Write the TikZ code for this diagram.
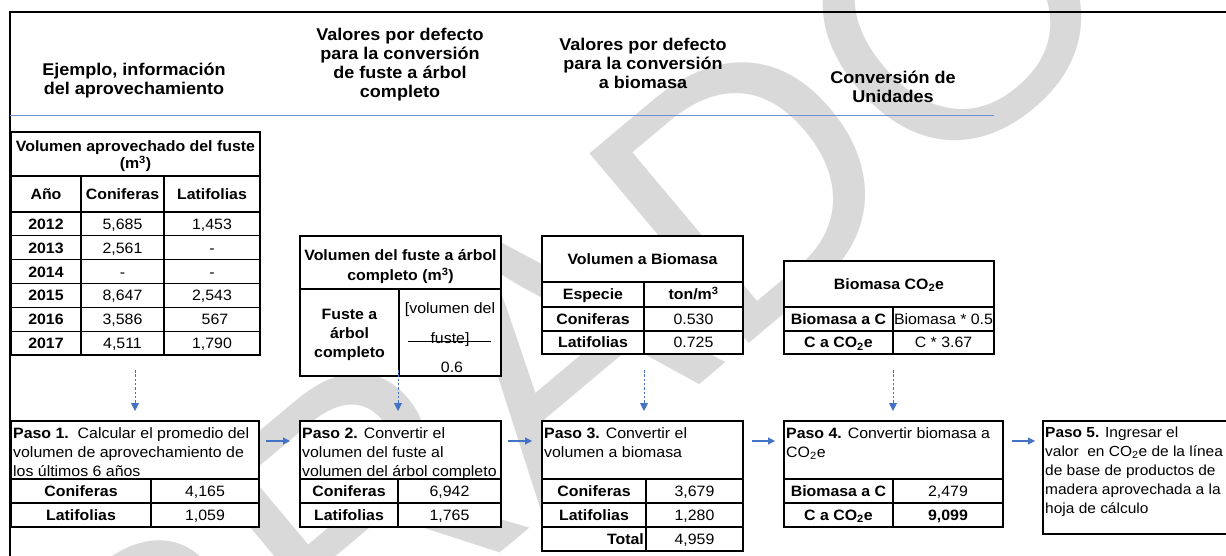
\documentclass[tikz,border=0pt]{standalone}
\usepackage{fontspec}
\setmainfont[FakeStretch=1.06]{Liberation Sans}
\newfontfamily\wmfont{Liberation Sans}
\usetikzlibrary{arrows.meta}
\definecolor{arrowblue}{HTML}{4472C4}
\definecolor{ruleblue}{HTML}{6D8FD4}
\begin{document}
\begin{tikzpicture}[x=1pt,y=-1pt,
  tb/.style={draw=black, line width=1.3pt, fill=white},
  ln/.style={draw=black, line width=1.3pt},
  tx/.style={font=\fontsize{15}{18}\selectfont, inner sep=0pt, anchor=base, yshift=-5.4pt},
  bx/.style={tx, font=\fontsize{15}{18}\selectfont\bfseries},
  ml/.style={font=\fontsize{15}{19}\selectfont\bfseries, align=center, inner sep=0pt},
  hd/.style={font=\fontsize{17}{19}\selectfont\bfseries, align=center, inner sep=0pt},
  ps/.style={font=\fontsize{15}{19}\selectfont, align=left, inner sep=0pt, anchor=north west},
  dar/.style={draw=arrowblue, line width=0.9pt, dash pattern=on 2.5pt off 1.8pt, -{Triangle[length=8pt,width=8pt]}},
  har/.style={draw=arrowblue, line width=1.1pt, -{Triangle[length=7pt,width=7pt]}}]
\useasboundingbox (0,0) rectangle (1226,556);
\clip (0,0) rectangle (1226,556);
% watermark
\node[font=\wmfont\fontsize{360}{360}\selectfont, text=black!15, rotate=40, inner sep=0pt] (wm) at (463,422) {BORRADOR};
% frame and rule
\draw[line width=1.5pt] (1230,12) -- (10,12) -- (10,560);
\draw[ruleblue, line width=0.9pt] (10,115.5) -- (994,115.5);
% headers
\node[hd] (h1) at (134,81) {Ejemplo, información\\del aprovechamiento};
\node[hd] (h2) at (400,65) {Valores por defecto\\para la conversión\\de fuste a árbol\\completo};
\node[hd] (h3) at (643,63) {Valores por defecto\\para la conversión\\a biomasa};
\node[hd] (h4) at (893,87) {Conversión de\\Unidades};
% table 1
\path[tb] (11,132) rectangle (260,355);
\foreach \yy in {176,212,235.8,259.7,283.5,307.3,331.2} {\draw[ln] (11,\yy) -- (260,\yy);}
\draw[ln] (81,176) -- (81,355);
\draw[ln] (164,176) -- (164,355);
\node[font=\fontsize{15}{17}\selectfont\bfseries, align=center, inner sep=0pt] (t1h) at (135.5,156) {Volumen aprovechado del fuste\\(m\textsuperscript{3})};
\node[bx] (t1a) at (46,194) {Año};
\node[bx] (t1b) at (122.5,194) {Coniferas};
\node[bx] (t1c) at (212,194) {Latifolias};
\node[bx] (y12) at (46,223.9) {2012};
\node[tx] (c12) at (122.5,223.9) {5,685};
\node[tx] (l12) at (212,223.9) {1,453};
\node[bx] (y13) at (46,247.75) {2013};
\node[tx] (c13) at (122.5,247.75) {2,561};
\node[tx] (l13) at (212,247.75) {-};
\node[bx] (y14) at (46,271.6) {2014};
\node[tx] (c14) at (122.5,271.6) {-};
\node[tx] (l14) at (212,271.6) {-};
\node[bx] (y15) at (46,295.4) {2015};
\node[tx] (c15) at (122.5,295.4) {8,647};
\node[tx] (l15) at (212,295.4) {2,543};
\node[bx] (y16) at (46,319.25) {2016};
\node[tx] (c16) at (122.5,319.25) {3,586};
\node[tx] (l16) at (215,319.25) {567};
\node[bx] (y17) at (46,343.1) {2017};
\node[tx] (c17) at (122.5,343.1) {4,511};
\node[tx] (l17) at (212,343.1) {1,790};
% table 2
\path[tb] (300,236) rectangle (501,376);
\draw[ln] (300,289) -- (501,289);
\draw[ln] (399,289) -- (399,376);
\node[font=\fontsize{15}{20}\selectfont\bfseries, align=center, inner sep=0pt] (t2h) at (400.5,266.5) {Volumen del fuste a árbol\\completo (m\textsuperscript{3})};
\node[ml] (t2a) at (349.5,334.5) {Fuste a\\árbol\\completo};
\node[tx] (t2b) at (450,308) {[volumen del};
\node[tx] (t2c) at (450,338.5) {fuste]};
\draw[line width=0.8pt] (408,341.5) -- (491,341.5);
\node[tx] (t2d) at (452,367) {0.6};
% table 3
\path[tb] (542,236) rectangle (743,354);
\foreach \yy in {282,307,331} {\draw[ln] (542,\yy) -- (743,\yy);}
\draw[ln] (644,282) -- (644,354);
\node[bx] (t3h) at (642.5,259) {Volumen a Biomasa};
\node[bx] (t3a) at (593,294.5) {Especie};
\node[bx] (t3b) at (693.5,294.5) {ton/m\textsuperscript{3}};
\node[bx] (t3c) at (593,319) {Coniferas};
\node[tx] (t3d) at (693.5,319) {0.530};
\node[bx] (t3e) at (593,342.5) {Latifolias};
\node[tx] (t3f) at (693.5,342.5) {0.725};
% table 4
\path[tb] (784,261) rectangle (994,354);
\draw[ln] (784,307) -- (994,307);
\draw[ln] (784,331) -- (994,331);
\draw[ln] (893,307) -- (893,354);
\node[bx] (t4h) at (889,284) {Biomasa CO\textsubscript{2}e};
\node[bx] (t4a) at (838.5,319) {Biomasa a C};
\node[tx] (t4b) at (943.5,319) {Biomasa * 0.5};
\node[bx] (t4c) at (838.5,342.5) {C a CO\textsubscript{2}e};
\node[tx] (t4d) at (943.5,342.5) {C * 3.67};
% paso 1
\path[tb] (11,421) rectangle (259,527);
\draw[ln] (11,479) -- (259,479);
\draw[ln] (11,503) -- (259,503);
\draw[ln] (151,479) -- (151,527);
\node[ps] (p1t) at (13,427.3) {\textbf{Paso 1.}\ \ Calcular el promedio del\\volumen de aprovechamiento de\\los últimos 6 años};
\node[bx] (p1a) at (81,491) {Coniferas};
\node[tx] (p1b) at (205,491) {4,165};
\node[bx] (p1c) at (81,515) {Latifolias};
\node[tx] (p1d) at (205,515) {1,059};
% paso 2
\path[tb] (300,421) rectangle (501,527);
\draw[ln] (300,479) -- (501,479);
\draw[ln] (300,503) -- (501,503);
\draw[ln] (398,479) -- (398,527);
\node[ps] (p2t) at (302,427.3) {\textbf{Paso 2.} Convertir el\\volumen del fuste al\\volumen del árbol completo};
\node[bx] (p2a) at (349,491) {Coniferas};
\node[tx] (p2b) at (449.5,491) {6,942};
\node[bx] (p2c) at (349,515) {Latifolias};
\node[tx] (p2d) at (449.5,515) {1,765};
% paso 3
\path[tb] (542,421) rectangle (743,551);
\foreach \yy in {479,503,527} {\draw[ln] (542,\yy) -- (743,\yy);}
\draw[ln] (646,479) -- (646,551);
\node[ps] (p3t) at (544,427.3) {\textbf{Paso 3.} Convertir el\\volumen a biomasa};
\node[bx] (p3a) at (594,491) {Coniferas};
\node[tx] (p3b) at (694.5,491) {3,679};
\node[bx] (p3c) at (594,515) {Latifolias};
\node[tx] (p3d) at (694.5,515) {1,280};
\node[bx, anchor=base east] (p3e) at (644,539) {Total};
\node[tx] (p3f) at (694.5,539) {4,959};
% paso 4
\path[tb] (784,421) rectangle (1003,527);
\draw[ln] (784,479) -- (1003,479);
\draw[ln] (784,503) -- (1003,503);
\draw[ln] (893,479) -- (893,527);
\node[ps] (p4t) at (786,427.3) {\textbf{Paso 4.} Convertir biomasa a\\CO\textsubscript{2}e};
\node[bx] (p4a) at (838.5,491) {Biomasa a C};
\node[tx] (p4b) at (948,491) {2,479};
\node[bx] (p4c) at (838.5,515) {C a CO\textsubscript{2}e};
\node[bx] (p4d) at (948,515) {9,099};
% paso 5
\path[tb] (1043,421) rectangle (1240,534);
\node[ps, font=\fontsize{14.6}{19}\selectfont] (p5t) at (1045,427) {\textbf{Paso 5.} Ingresar el\\valor\ \ en CO\textsubscript{2}e de la línea\\de base de productos de\\madera aprovechada a la\\hoja de cálculo};
% connectors
\coordinate (d1s) at (135,370); \coordinate (d1e) at (135,411);
\coordinate (d2s) at (398,370); \coordinate (d2e) at (398,411);
\coordinate (d3s) at (644,370); \coordinate (d3e) at (644,411);
\coordinate (d4s) at (893,370); \coordinate (d4e) at (893,411);
\draw[dar] (d1s) -- (d1e);
\draw[dar] (d2s) -- (d2e);
\draw[dar] (d3s) -- (d3e);
\draw[dar] (d4s) -- (d4e);
\coordinate (a12s) at (266,441); \coordinate (a12e) at (290,441);
\coordinate (a23s) at (508,441); \coordinate (a23e) at (532,441);
\coordinate (a34s) at (752,441); \coordinate (a34e) at (775,441);
\coordinate (a45s) at (1012,441); \coordinate (a45e) at (1035,441);
\draw[har] (a12s) -- (a12e);
\draw[har] (a23s) -- (a23e);
\draw[har] (a34s) -- (a34e);
\draw[har] (a45s) -- (a45e);
\end{tikzpicture}
\end{document}
